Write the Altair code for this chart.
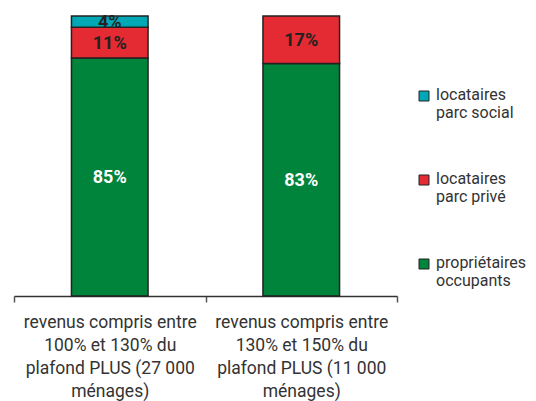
import altair as alt
import pandas as pd

groups = [
    "revenus compris entre|100% et 130% du|plafond PLUS (27 000|ménages)",
    "revenus compris entre|130% et 150% du|plafond PLUS (11 000|ménages)",
]
categories = ["propriétaires occupants", "locataires parc privé", "locataires parc social"]
group1_values = [85, 11, 4]
group2_values = [83, 17, 0]

colors = {
    "locataires parc social": "#00A8B6",
    "locataires parc privé": "#E42B33",
    "propriétaires occupants": "#00833A",
}

rows = []
for g, vals in zip(groups, [group1_values, group2_values]):
    for rank, (cat, v) in enumerate(zip(categories, vals)):
        if v > 0:
            rows.append({"groupe": g, "categorie": cat, "valeur": v, "rang": rank})
df = pd.DataFrame(rows)

legend_order = ["locataires parc social", "locataires parc privé", "propriétaires occupants"]

x_enc = alt.X(
    "groupe:N",
    sort=groups,
    scale=alt.Scale(paddingInner=0, paddingOuter=0),
    axis=alt.Axis(
        title=None,
        labelAngle=0,
        tickBand="extent",
        labelExpr="split(datum.label, '|')",
        labelFont="Roboto",
        labelFontSize=17.5,
        labelColor="#333333",
        labelLineHeight=23,
        labelPadding=11,
        labelLimit=300,
        labelBaseline="top",
        domainColor="#333333",
        domainWidth=1.5,
        tickColor="#555555",
        tickSize=6,
        tickWidth=1.5,
    ),
)

bars = alt.Chart(df).mark_bar(
    width=alt.RelativeBandSize(0.4), stroke="#222222", strokeWidth=1.5
).encode(
    x=x_enc,
    y=alt.Y("valeur:Q", stack="zero", scale=alt.Scale(domain=[0, 100]), axis=None),
    fill=alt.Fill(
        "categorie:N",
        scale=alt.Scale(domain=legend_order, range=[colors[c] for c in legend_order]),
        legend=alt.Legend(
            title=None,
            orient="none",
            legendX=402,
            legendY=76,
            labelExpr="split(datum.label == 'locataires parc social' ? 'locataires|parc social' : datum.label == 'locataires parc privé' ? 'locataires|parc privé' : 'propriétaires|occupants', '|')",
            labelFont="Roboto",
            labelFontSize=16,
            labelColor="#333333",
            labelBaseline="alphabetic",
            labelOffset=4,
            labelLimit=200,
            symbolType="M-1,-1.8H1V0.2H-1Z",
            symbolSize=100,
            symbolStrokeColor="#222222",
            symbolStrokeWidth=1,
            symbolOpacity=1,
            rowPadding=50,
            padding=0,
        ),
    ),
    order=alt.Order("rang:Q"),
)

labels = alt.Chart(df).transform_stack(
    stack="valeur", groupby=["groupe"], as_=["y0", "y1"], sort=[alt.SortField("rang")]
).transform_calculate(
    mid="(datum.y0 + datum.y1) / 2", txt="datum.valeur + '%'"
).mark_text(
    font="Roboto", fontSize=18, fontWeight="bold", baseline="middle", dy=1
).encode(
    x=alt.X("groupe:N", sort=groups),
    y=alt.Y("mid:Q"),
    text="txt:N",
    color=alt.condition(
        "datum.categorie == 'propriétaires occupants'", alt.value("#ffffff"), alt.value("#222222")
    ),
)

chart = alt.layer(bars, labels).properties(
    width=383,
    height=280,
    padding={"left": 6, "top": 8, "right": 130, "bottom": 105},
    autosize=alt.AutoSizeParams(type="none"),
).configure_view(stroke=None)

chart.save("out.html", embed_options={"renderer": "svg", "actions": False})
